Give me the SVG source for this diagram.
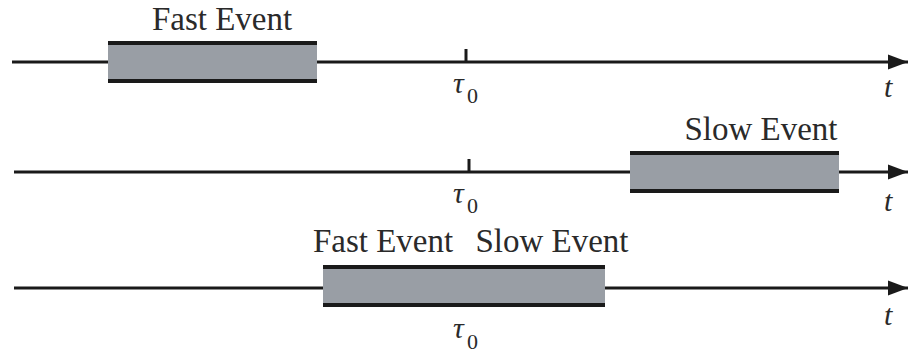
<svg xmlns="http://www.w3.org/2000/svg" width="909" height="356" viewBox="0 0 909 356">
<style>
.axis{stroke:#1a1a1a;stroke-width:3;fill:none}
.bar{stroke:#1a1a1a;stroke-width:4}
.box{fill:#999ea5}
.lbl{font-family:'Liberation Serif', serif;font-size:33px;fill:#2a2a2a;text-anchor:middle}
.math{font-family:'Liberation Serif', serif;font-style:italic;font-size:30px;fill:#2a2a2a}
.sub{font-family:'Liberation Serif', serif;font-size:22px;fill:#2a2a2a}
</style>
<defs>
<marker id="arr" markerWidth="22" markerHeight="18" refX="20" refY="8" orient="auto" markerUnits="userSpaceOnUse">
<path d="M0,0.5 L20,8 L0,15.5 Z" fill="#1a1a1a"/>
</marker>
</defs>
<rect width="909" height="356" fill="#ffffff"/>
<g id="connectors">
<line class="axis" x1="12" y1="62" x2="908" y2="62" marker-end="url(#arr)"/>
<line class="axis" x1="14" y1="172" x2="908" y2="172" marker-end="url(#arr)"/>
<line class="axis" x1="14" y1="288" x2="908" y2="288" marker-end="url(#arr)"/>
<line class="axis" x1="466" y1="49" x2="466" y2="62"/>
<line class="axis" x1="469" y1="159" x2="469" y2="172"/>
</g>
<g id="fast1">
<rect class="box" x="108" y="43" width="209" height="38"/>
<line class="bar" x1="108" y1="43" x2="317" y2="43"/>
<line class="bar" x1="108" y1="81" x2="317" y2="81"/>
<text class="lbl" x="222" y="29.5">Fast Event</text>
</g>
<g id="slow2">
<rect class="box" x="630" y="153" width="209" height="38"/>
<line class="bar" x1="630" y1="153" x2="839" y2="153"/>
<line class="bar" x1="630" y1="191" x2="839" y2="191"/>
<text class="lbl" x="761" y="140">Slow Event</text>
</g>
<g id="both3">
<rect class="box" x="323" y="267" width="282" height="38"/>
<line class="bar" x1="323" y1="267" x2="605" y2="267"/>
<line class="bar" x1="323" y1="305" x2="605" y2="305"/>
<text class="lbl" x="383" y="252">Fast Event</text>
<text class="lbl" x="552" y="252">Slow Event</text>
</g>
<g id="labels1">
<text class="math" x="453" y="93">τ</text><text class="sub" x="467" y="103">0</text>
<text class="math" x="884" y="97">t</text>
</g>
<g id="labels2">
<text class="math" x="453" y="203">τ</text><text class="sub" x="467" y="213">0</text>
<text class="math" x="884" y="211">t</text>
</g>
<g id="labels3">
<text class="math" x="453" y="338">τ</text><text class="sub" x="467" y="349">0</text>
<text class="math" x="884" y="325">t</text>
</g>
</svg>
